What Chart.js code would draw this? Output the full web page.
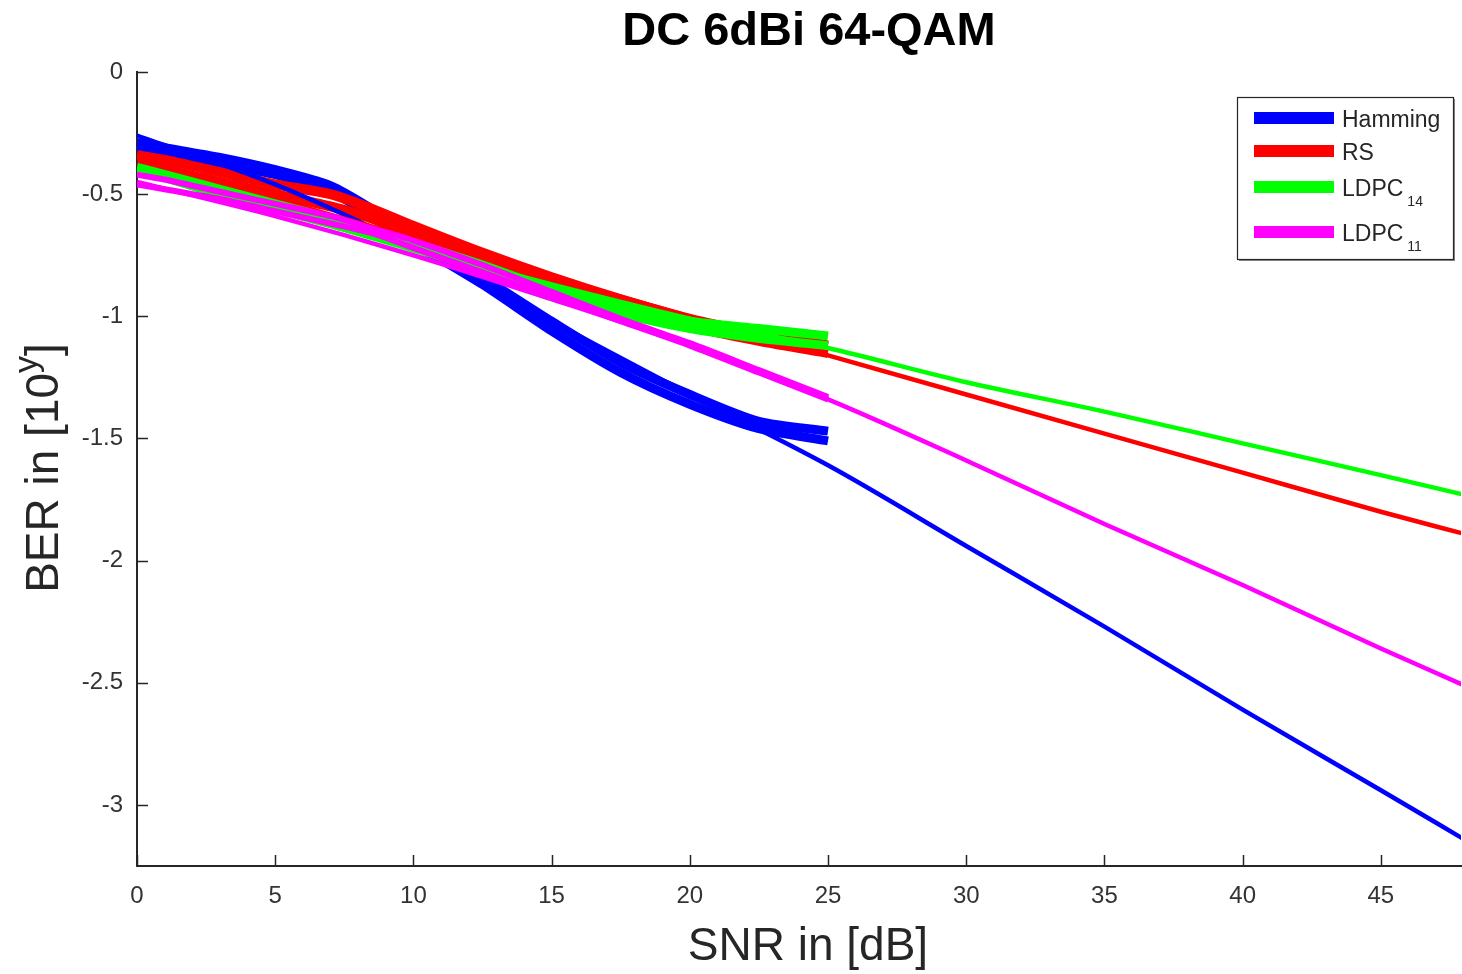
<!DOCTYPE html>
<html>
<head>
<meta charset="utf-8">
<script src="https://cdn.jsdelivr.net/npm/chart.js@4.4.1/dist/chart.umd.min.js"></script>
<style>
  html, body { margin: 0; padding: 0; background: #fff; overflow: hidden; }
  #wrap { width: 1462px; height: 974px; }
</style>
</head>
<body>
<div id="wrap"><canvas id="chart" width="1462" height="974"></canvas></div>
<script>
"use strict";

// ── Data ─────────────────────────────────────────────────────────────────────
const snrMeas = [0, 1, 3, 5, 7, 8.5, 10, 12.5, 15, 17.5, 20, 22.5, 25];
const snrFit  = [0, 5, 10, 15, 20, 25, 30, 35, 40, 45, 48];

const hammingMeasA = [-0.29, -0.31, -0.35, -0.40, -0.465, -0.56, -0.67, -0.84, -1.02, -1.19, -1.32, -1.43, -1.47];
const hammingMeasB = [-0.31, -0.33, -0.38, -0.42, -0.49, -0.59, -0.70, -0.87, -1.06, -1.23, -1.36, -1.46, -1.51];
const hammingFit   = [-0.26, -0.46, -0.72, -1.02, -1.32, -1.61, -1.94, -2.27, -2.61, -2.94, -3.14];

const rsMeasA = [-0.34, -0.36, -0.41, -0.46, -0.50, -0.56, -0.63, -0.74, -0.84, -0.93, -1.01, -1.07, -1.12];
const rsMeasB = [-0.38, -0.40, -0.45, -0.50, -0.55, -0.60, -0.67, -0.77, -0.87, -0.96, -1.04, -1.10, -1.15];
const rsFit   = [-0.35, -0.52, -0.68, -0.84, -1.00, -1.16, -1.32, -1.48, -1.64, -1.80, -1.89];

const ldpc14MeasA = [-0.39, -0.42, -0.48, -0.54, -0.60, -0.65, -0.70, -0.79, -0.89, -0.96, -1.02, -1.05, -1.08];
const ldpc14MeasB = [-0.40, -0.43, -0.50, -0.56, -0.62, -0.67, -0.72, -0.81, -0.92, -0.99, -1.05, -1.09, -1.12];
const ldpc14Fit   = [-0.41, -0.57, -0.72, -0.87, -1.01, -1.13, -1.27, -1.39, -1.52, -1.65, -1.73];

const ldpc11MeasA = [-0.42, -0.44, -0.49, -0.54, -0.59, -0.64, -0.69, -0.79, -0.90, -1.01, -1.11, -1.22, -1.33];
const ldpc11MeasB = [-0.46, -0.48, -0.52, -0.57, -0.62, -0.66, -0.72, -0.82, -0.92, -1.02, -1.12, -1.23, -1.34];
const ldpc11Fit   = [-0.45, -0.59, -0.75, -0.93, -1.12, -1.34, -1.59, -1.85, -2.10, -2.36, -2.51];

const xTickValues = [0, 5, 10, 15, 20, 25, 30, 35, 40, 45];
const yTickValues = [0, -0.5, -1, -1.5, -2, -2.5, -3];

// legend: [main text, subscript, colour]
const legendItems = [
  ["Hamming", "",   "#0000ff"],
  ["RS",      "",   "#ff0000"],
  ["LDPC",    "14", "#00ff00"],
  ["LDPC",    "11", "#ff00ff"],
];

// ── Style ─────────────────────────────────────────────────────────────────────
const FONT    = "'Liberation Sans', Arial, Helvetica, sans-serif";
const AXIS    = "#262626";
const TICKCLR = "#333333";

function pts(xs, ys) { return xs.map((x, i) => ({ x, y: ys[i] })); }

function meas(xs, ys, color, width) {
  return { data: pts(xs, ys), borderColor: color, borderWidth: width, pointRadius: 0,
           tension: 0.25, borderJoinStyle: "round", fill: false };
}
function fit(xs, ys, color) {
  return { data: pts(xs, ys), borderColor: color, borderWidth: 4.5, pointRadius: 0,
           cubicInterpolationMode: "monotone", fill: false };
}

// drawing order (later = on top)
const datasets = [
  meas(snrMeas, hammingMeasA, "#0000ff", 9),
  meas(snrMeas, hammingMeasB, "#0000ff", 9),
  meas(snrMeas, rsMeasA, "#ff0000", 10),
  meas(snrMeas, rsMeasB, "#ff0000", 10),
  fit(snrFit, hammingFit, "#0000ff"),
  fit(snrFit, rsFit, "#ff0000"),
  meas(snrMeas, ldpc14MeasA, "#00ff00", 9),
  meas(snrMeas, ldpc14MeasB, "#00ff00", 9),
  fit(snrFit, ldpc14Fit, "#00ff00"),
  meas(snrMeas, ldpc11MeasA, "#ff00ff", 6),
  meas(snrMeas, ldpc11MeasB, "#ff00ff", 6),
  fit(snrFit, ldpc11Fit, "#ff00ff"),
].map((d, i) => Object.assign(d, { order: -i }));

// ── Plugin: inward tick marks, titles, legend box ────────────────────────────
const decorations = {
  id: "decorations",
  afterDraw(chart) {
    const { ctx, chartArea: a, scales: { x, y } } = chart;
    ctx.save();

    // inward ticks
    ctx.strokeStyle = AXIS;
    ctx.lineWidth = 1.5;
    ctx.beginPath();
    x.ticks.forEach(t => {
      const px = Math.round(x.getPixelForValue(t.value)) + 0.5;
      ctx.moveTo(px, a.bottom); ctx.lineTo(px, a.bottom - 11);
    });
    y.ticks.forEach(t => {
      const py = Math.round(y.getPixelForValue(t.value)) + 0.5;
      ctx.moveTo(a.left, py); ctx.lineTo(a.left + 11, py);
    });
    ctx.stroke();

    // title
    ctx.fillStyle = "#000";
    ctx.textAlign = "center";
    ctx.textBaseline = "middle";
    ctx.font = `bold 47px ${FONT}`;
    ctx.fillText("DC 6dBi 64-QAM", 809, 32);

    // x title
    ctx.fillStyle = AXIS;
    ctx.font = `46px ${FONT}`;
    ctx.fillText("SNR in [dB]", 808, 947);

    // y title with superscript
    ctx.save();
    ctx.translate(58, 468);
    ctx.rotate(-Math.PI / 2);
    ctx.textAlign = "left";
    ctx.textBaseline = "alphabetic";
    const big = `46px ${FONT}`, sup = `34px ${FONT}`;
    ctx.font = big;
    const p1 = "BER in [10", p3 = "]";
    const w1 = ctx.measureText(p1).width, w3 = ctx.measureText(p3).width;
    ctx.font = sup;
    const w2 = ctx.measureText("y").width;
    let sx = -(w1 + w2 + w3) / 2;
    ctx.font = big; ctx.fillText(p1, sx, 0); sx += w1;
    ctx.font = sup; ctx.fillText("y", sx, -21); sx += w2;
    ctx.font = big; ctx.fillText(p3, sx, 0);
    ctx.restore();

    // legend box
    const bx = 1237, by = 97, bw = 216, bh = 162;
    ctx.fillStyle = "#fff";
    ctx.fillRect(bx, by, bw, bh);
    ctx.strokeStyle = "#888";
    ctx.lineWidth = 2;
    ctx.beginPath();
    ctx.moveTo(bx + 2, by + bh + 1); ctx.lineTo(bx + bw + 1, by + bh + 1); ctx.lineTo(bx + bw + 1, by + 2);
    ctx.stroke();
    ctx.strokeStyle = AXIS;
    ctx.lineWidth = 1.2;
    ctx.strokeRect(bx + 0.5, by + 0.5, bw, bh);

    const rowY = [118, 151, 187, 232];
    legendItems.forEach(([label, subText, color], i) => {
      const ly = rowY[i];
      ctx.strokeStyle = color;
      ctx.lineWidth = 12;
      ctx.beginPath();
      ctx.moveTo(1254, ly); ctx.lineTo(1334, ly);
      ctx.stroke();
      ctx.fillStyle = AXIS;
      ctx.textAlign = "left";
      ctx.textBaseline = "alphabetic";
      ctx.font = `23px ${FONT}`;
      ctx.fillText(label, 1342, ly + 9);
      if (subText) {
        const lw = ctx.measureText(label).width;
        ctx.font = `14px ${FONT}`;
        ctx.fillText(subText, 1342 + lw + 4, ly + 19);
      }
    });

    ctx.restore();
  }
};

// ── Chart ─────────────────────────────────────────────────────────────────────
new Chart(document.getElementById("chart"), {
  type: "line",
  data: { datasets },
  plugins: [decorations],
  options: {
    responsive: false,
    animation: false,
    devicePixelRatio: 1,
    layout: { padding: { top: 72, right: 1, left: 0, bottom: 0 } },
    plugins: { legend: { display: false }, tooltip: { enabled: false }, title: { display: false } },
    scales: {
      x: {
        type: "linear",
        min: 0, max: 47.9,
        afterBuildTicks: s => { s.ticks = xTickValues.map(v => ({ value: v })); },
        afterFit: s => { s.height = 108; },
        grid: { display: false, drawTicks: false },
        border: { display: true, color: AXIS, width: 2 },
        ticks: { color: TICKCLR, font: { family: FONT, size: 24 }, padding: 16, maxRotation: 0,
                 callback: v => String(v) },
      },
      y: {
        type: "linear",
        min: -3.25, max: 0,
        afterBuildTicks: s => { s.ticks = yTickValues.map(v => ({ value: v })); },
        afterFit: s => { s.width = 137; },
        grid: { display: false, drawTicks: false },
        border: { display: true, color: AXIS, width: 2 },
        ticks: { color: TICKCLR, font: { family: FONT, size: 24 }, padding: 14,
                 callback: v => String(v) },
      },
    },
  },
});
</script>
</body>
</html>
